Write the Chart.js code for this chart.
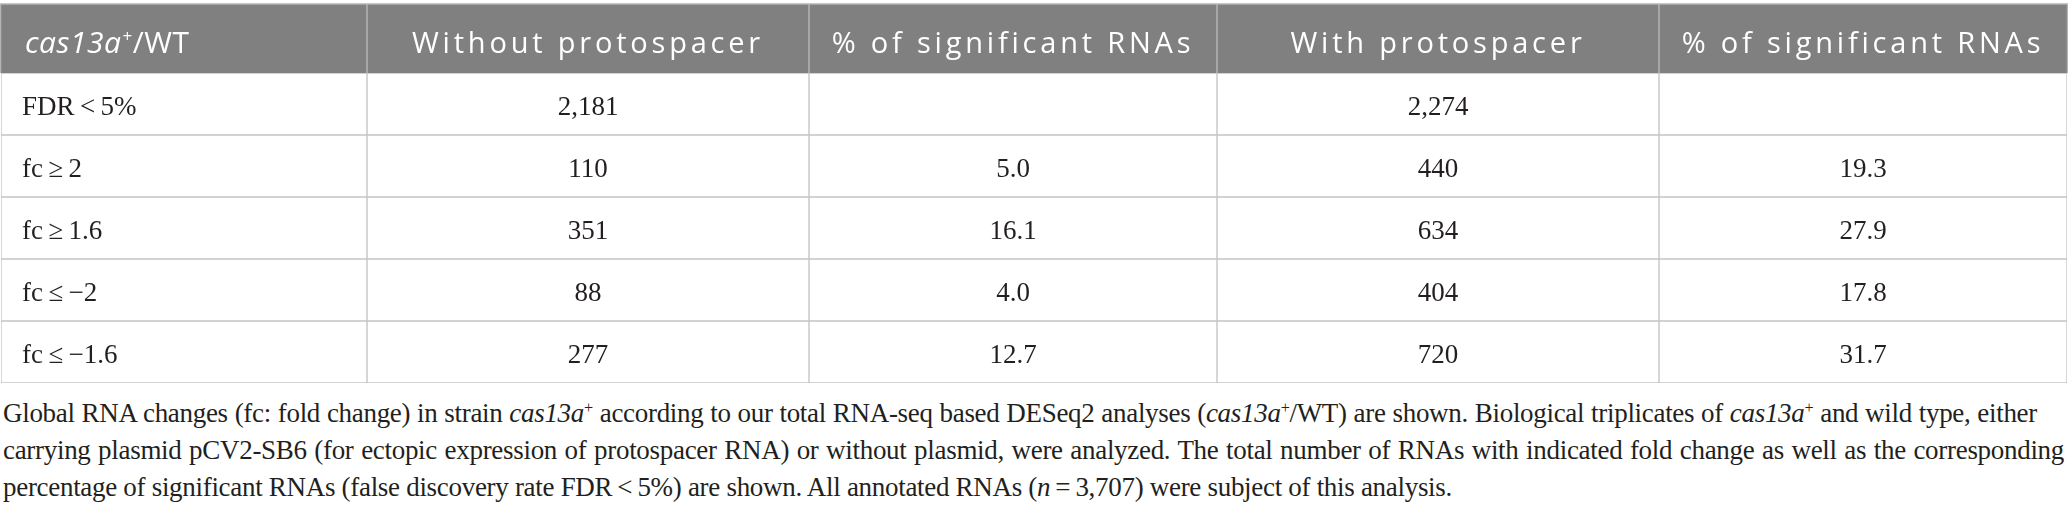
<!DOCTYPE html>
<html>
<head>
<meta charset="utf-8">
<script src="https://cdn.jsdelivr.net/npm/chart.js@4.4.1/dist/chart.umd.min.js"></script>
<style>
    body { margin: 0; background: #fff; }
    #wrap { position: relative; width: 2068px; height: 510px; overflow: hidden; }
    #tableChart { position: absolute; left: 0; top: 0; }
    .caption {
        position: absolute; left: 3px; top: 395px;
        font-family: "Liberation Serif", serif; font-size: 27px; line-height: 37px; color: #231f20;
        letter-spacing: -0.3px;
    }
    .caption div { white-space: nowrap; text-align: justify; text-align-last: justify; }
    .caption div.last { text-align-last: left; }
    .caption sup { font-size: 0.6em; vertical-align: 0.55em; line-height: 0; }
</style>
</head>
<body>
<div id="wrap">
    <canvas id="tableChart" width="2068" height="384"></canvas>
    <div class="caption">
        <div style="width:2034px">Global RNA changes (fc: fold change) in strain <i>cas13a</i><sup>+</sup> according to our total RNA-seq based DESeq2 analyses (<i>cas13a</i><sup>+</sup>/WT) are shown. Biological triplicates of <i>cas13a</i><sup>+</sup> and wild type, either</div>
        <div style="width:2061px">carrying plasmid pCV2-SB6 (for ectopic expression of protospacer RNA) or without plasmid, were analyzed. The total number of RNAs with indicated fold change as well as the corresponding</div>
        <div class="last">percentage of significant RNAs (false discovery rate FDR&#8201;&lt;&#8201;5%) are shown. All annotated RNAs (<i>n</i>&#8201;=&#8201;3,707) were subject of this analysis.</div>
    </div>
</div>
<script>
// Table data
const columnHeaders = ['cas13a+/WT', 'Without protospacer', '% of significant RNAs', 'With protospacer', '% of significant RNAs'];
const rowLabels = ['FDR\u2009<\u20095%', 'fc\u2009\u2265\u20092', 'fc\u2009\u2265\u20091.6', 'fc\u2009\u2264\u2009\u22122', 'fc\u2009\u2264\u2009\u22121.6'];
const withoutCounts = [2181, 110, 351, 88, 277];
const withoutPct = [null, 5.0, 16.1, 4.0, 12.7];
const withCounts = [2274, 440, 634, 404, 720];
const withPct = [null, 19.3, 27.9, 17.8, 31.7];

// Layout (column widths in px)
const colWidths = [366, 442, 408, 442, 408];
const headerHeight = 69;
const gridColor = '#c4c4c4';
const headerBg = '#808080';
const textColor = '#231f20';

const colEdges = [0];
colWidths.forEach(w => colEdges.push(colEdges[colEdges.length - 1] + w));
const totalWidth = colEdges[colEdges.length - 1];

function fmtCount(v) { return v.toLocaleString('en-US'); }
function fmtPct(v) { return v === null ? '' : v.toFixed(1); }

const cellText = [
    rowLabels,
    withoutCounts.map(fmtCount),
    withoutPct.map(fmtPct),
    withCounts.map(fmtCount),
    withPct.map(fmtPct)
];

const datasets = colWidths.map((w, j) => ({
    label: columnHeaders[j],
    data: rowLabels.map(() => [colEdges[j], colEdges[j + 1]]),
    backgroundColor: '#ffffff',
    borderColor: gridColor,
    borderWidth: 1,
    borderSkipped: false,
    grouped: false,
    categoryPercentage: 1,
    barPercentage: 1
}));

const tablePlugin = {
    id: 'tablePlugin',
    beforeDatasetsDraw(chart) {
        const { ctx, chartArea, scales: { x } } = chart;
        const top = chartArea.top - headerHeight;
        ctx.save();
        ctx.fillStyle = headerBg;
        ctx.fillRect(chartArea.left, top, chartArea.right - chartArea.left, headerHeight);
        // header borders
        ctx.strokeStyle = '#b4b4b4';
        ctx.lineWidth = 1.5;
        ctx.beginPath();
        ctx.moveTo(chartArea.left - 1, top);
        ctx.lineTo(chartArea.right + 1, top);
        colEdges.forEach(e => {
            const px = Math.round(x.getPixelForValue(e)) + (e === 0 ? -0.5 : e === totalWidth ? 0.5 : 0);
            ctx.moveTo(px, top);
            ctx.lineTo(px, chartArea.top);
        });
        ctx.stroke();

        // header texts
        ctx.fillStyle = '#ffffff';
        ctx.textBaseline = 'alphabetic';
        const base = top + headerHeight / 2 + 14.5;
        ctx.font = '400 29px "Open Sans"';
        ctx.letterSpacing = '0px';
        const natural = ctx.measureText('With protospacer').width;
        const spacing = Math.max(0, (295 - natural) / 16);
        ctx.letterSpacing = spacing.toFixed(2) + 'px';
        for (let j = 1; j < columnHeaders.length; j++) {
            const cx = x.getPixelForValue((colEdges[j] + colEdges[j + 1]) / 2);
            ctx.textAlign = 'center';
            ctx.fillText(columnHeaders[j], cx, base);
        }
        // first header: italic gene name with superscript
        ctx.textAlign = 'left';
        ctx.letterSpacing = '0.5px';
        let px = x.getPixelForValue(colEdges[0]) + 24;
        ctx.font = 'italic 400 30px "Open Sans"';
        ctx.fillText('cas13a', px, base);
        px += ctx.measureText('cas13a').width;
        ctx.font = '400 17px "Open Sans"';
        ctx.fillText('+', px + 1, base - 11);
        px += ctx.measureText('+').width + 1;
        ctx.font = '400 30px "Open Sans"';
        ctx.fillText('/WT', px, base);
        ctx.restore();
    },
    afterDatasetsDraw(chart) {
        const { ctx, scales: { x, y } } = chart;
        ctx.save();
        ctx.fillStyle = textColor;
        ctx.font = '27px "Liberation Serif"';
        ctx.textBaseline = 'alphabetic';
        cellText.forEach((col, j) => {
            col.forEach((txt, i) => {
                if (!txt) return;
                const cy = y.getPixelForValue(i) + 11;
                if (j === 0) {
                    ctx.textAlign = 'left';
                    ctx.fillText(txt, x.getPixelForValue(colEdges[0]) + 21, cy);
                } else {
                    ctx.textAlign = 'center';
                    ctx.fillText(txt, x.getPixelForValue((colEdges[j] + colEdges[j + 1]) / 2), cy);
                }
            });
        });
        ctx.restore();
    }
};

const ctx = document.getElementById('tableChart').getContext('2d');
const tableChart = new Chart(ctx, {
    type: 'bar',
    data: { labels: rowLabels, datasets: datasets },
    options: {
        indexAxis: 'y',
        responsive: false,
        animation: false,
        devicePixelRatio: 1,
        layout: { padding: { top: 4 + headerHeight, left: 1, right: 1, bottom: 1 } },
        plugins: { legend: { display: false }, tooltip: { enabled: false } },
        scales: {
            x: { type: 'linear', min: 0, max: totalWidth, display: false },
            y: { type: 'category', display: false, offset: true }
        }
    },
    plugins: [tablePlugin]
});
</script>
</body>
</html>
